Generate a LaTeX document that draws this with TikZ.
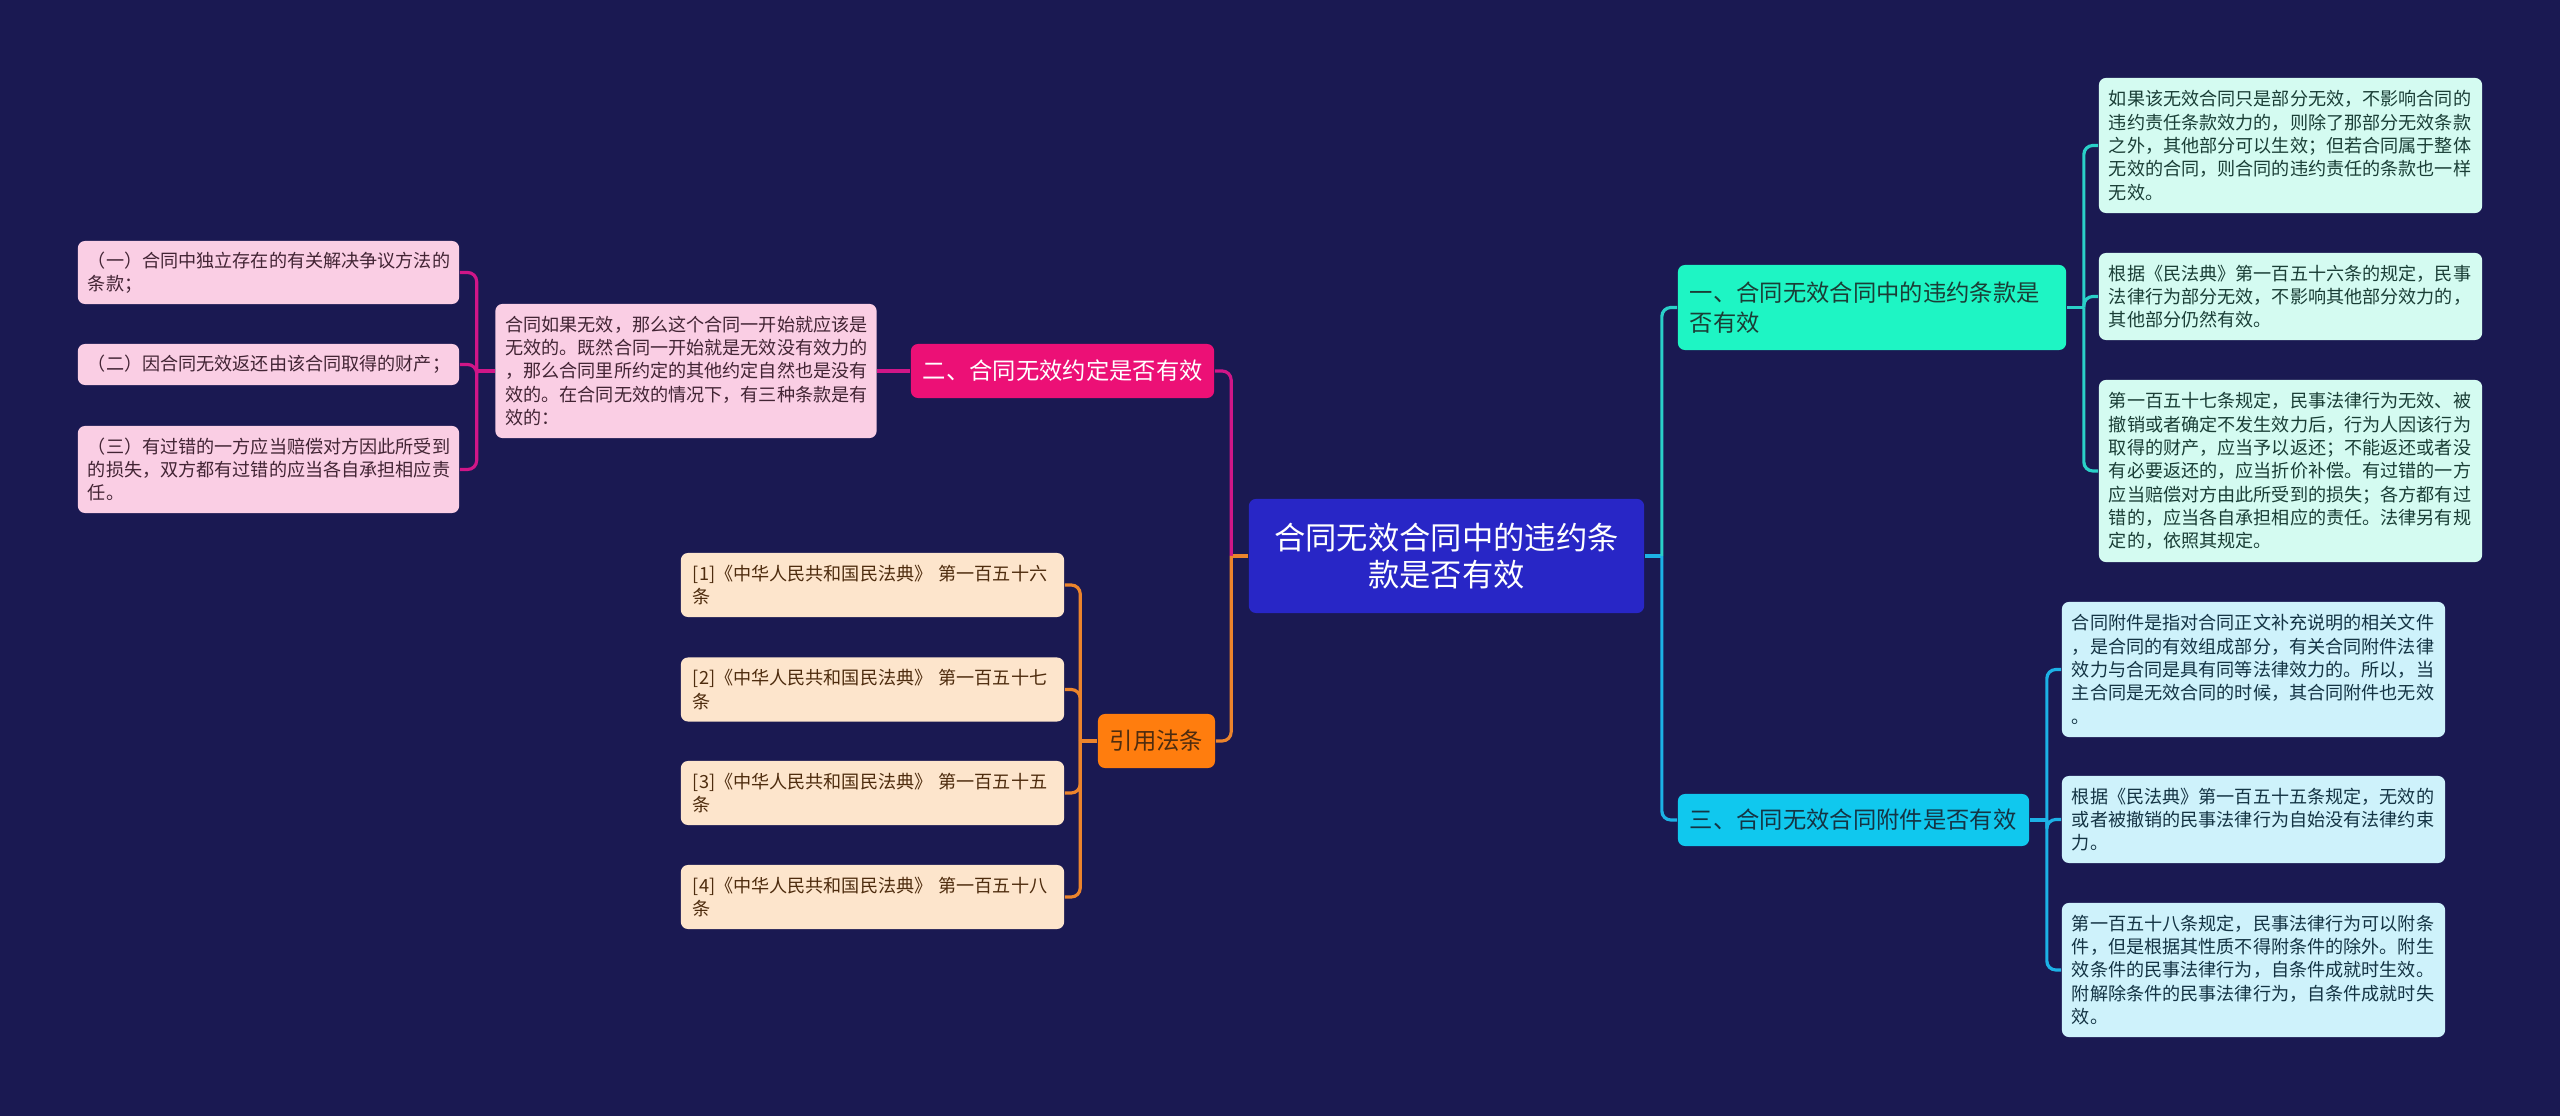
\documentclass[tikz,border=0pt]{standalone}
\usepackage{fontspec}
\setmainfont{Noto Sans CJK SC}
\definecolor{bgnavy}{RGB}{26,25,82}
\definecolor{rootblue}{RGB}{40,38,198}
\definecolor{mint}{RGB}{30,245,196}
\definecolor{mintleaf}{RGB}{212,251,241}
\definecolor{mintline}{RGB}{42,208,200}
\definecolor{mintink}{RGB}{26,62,54}
\definecolor{sky}{RGB}{16,200,238}
\definecolor{skyleaf}{RGB}{206,242,251}
\definecolor{skyline}{RGB}{28,178,230}
\definecolor{skyink}{RGB}{20,52,68}
\definecolor{rose}{RGB}{236,16,118}
\definecolor{roseleaf}{RGB}{250,206,228}
\definecolor{roseline}{RGB}{208,22,136}
\definecolor{roseink}{RGB}{66,36,52}
\definecolor{amber}{RGB}{255,125,14}
\definecolor{amberleaf}{RGB}{253,229,204}
\definecolor{amberline}{RGB}{236,132,44}
\definecolor{amberink}{RGB}{78,44,14}
\begin{document}
\begin{tikzpicture}[x=0.01cm,y=-0.01cm,
  box/.style={rounded corners=0.07cm,inner ysep=0pt},
  rootstyle/.style={box,fill=rootblue,text=white,align=center,minimum width=3.95cm,minimum height=1.14cm,font=\fontsize{8.9}{10.6}\selectfont},
  mainstyle/.style={box,inner xsep=0.12cm,align=left,font=\fontsize{6.63}{8.5}\selectfont},
  smallstyle/.style={box,inner xsep=0.1cm,align=left,text width=3.63cm,font=\fontsize{5.15}{6.63}\selectfont},
  refstyle/.style={smallstyle,inner xsep=0.12cm,text width=3.59cm,fill=amberleaf,text=amberink,minimum height=0.64cm},
  wire/.style={line width=0.9pt,rounded corners=0.09cm}]
	\path[use as bounding box,fill=bgnavy] (0,0) rectangle (2560,1116);

	% centre
	\node [rootstyle] (root) at (1446.5,556) {合同无效合同中的违约条\\款是否有效};

	% right side
	\node [mainstyle,fill=mint,text=mintink,text width=3.64cm,minimum height=0.85cm] (b1) at (1872,307.5) {一、合同无效合同中的违约条款是\\否有效};
	\node [mainstyle,fill=sky,text=skyink,text width=3.27cm,minimum height=0.52cm] (b3) at (1853.5,820) {三、合同无效合同附件是否有效};

	\node [smallstyle,fill=mintleaf,text=mintink,minimum height=1.35cm] (l1a) at (2290.5,145.5) {如果该无效合同只是部分无效，不影响合同的\\违约责任条款效力的，则除了那部分无效条款\\之外，其他部分可以生效；但若合同属于整体\\无效的合同，则合同的违约责任的条款也一样\\无效。};
	\node [smallstyle,fill=mintleaf,text=mintink,minimum height=0.87cm] (l1b) at (2290.5,296.5) {根据《民法典》第一百五十六条的规定，民事\\法律行为部分无效，不影响其他部分效力的，\\其他部分仍然有效。};
	\node [smallstyle,fill=mintleaf,text=mintink,minimum height=1.82cm] (l1c) at (2290.5,471) {第一百五十七条规定，民事法律行为无效、被\\撤销或者确定不发生效力后，行为人因该行为\\取得的财产，应当予以返还；不能返还或者没\\有必要返还的，应当折价补偿。有过错的一方\\应当赔偿对方由此所受到的损失；各方都有过\\错的，应当各自承担相应的责任。法律另有规\\定的，依照其规定。};

	\node [smallstyle,fill=skyleaf,text=skyink,minimum height=1.35cm] (l3a) at (2253.5,669.5) {合同附件是指对合同正文补充说明的相关文件\\，是合同的有效组成部分，有关合同附件法律\\效力与合同是具有同等法律效力的。所以，当\\主合同是无效合同的时候，其合同附件也无效\\。};
	\node [smallstyle,fill=skyleaf,text=skyink,minimum height=0.87cm] (l3b) at (2253.5,819.5) {根据《民法典》第一百五十五条规定，无效的\\或者被撤销的民事法律行为自始没有法律约束\\力。};
	\node [smallstyle,fill=skyleaf,text=skyink,minimum height=1.34cm] (l3c) at (2253.5,970) {第一百五十八条规定，民事法律行为可以附条\\件，但是根据其性质不得附条件的除外。附生\\效条件的民事法律行为，自条件成就时生效。\\附解除条件的民事法律行为，自条件成就时失\\效。};

	% left side
	\node [mainstyle,fill=rose,text=white,text width=2.79cm,minimum height=0.54cm] (b2) at (1062.5,371) {二、合同无效约定是否有效};
	\node [smallstyle,fill=roseleaf,text=roseink,text width=3.61cm,minimum height=1.34cm] (p) at (686,371) {合同如果无效，那么这个合同一开始就应该是\\无效的。既然合同一开始就是无效没有效力的\\，那么合同里所约定的其他约定自然也是没有\\效的。在合同无效的情况下，有三种条款是有\\效的：};
	\node [smallstyle,fill=roseleaf,text=roseink,text width=3.61cm,minimum height=0.63cm] (g1) at (268.5,272.5) {（一）合同中独立存在的有关解决争议方法的\\条款；};
	\node [smallstyle,fill=roseleaf,text=roseink,text width=3.61cm,minimum height=0.41cm] (g2) at (268.5,364.5) {（二）因合同无效返还由该合同取得的财产；};
	\node [smallstyle,fill=roseleaf,text=roseink,text width=3.61cm,minimum height=0.87cm] (g3) at (268.5,469.5) {（三）有过错的一方应当赔偿对方因此所受到\\的损失，双方都有过错的应当各自承担相应责\\任。};

	\node [mainstyle,fill=amber,text=amberink,text width=0.93cm,minimum height=0.54cm] (cite) at (1156.5,741) {引用法条};
	\foreach \i/\y/\n in {1/585/六,2/689.5/七,3/793/五,4/897/八}
		\node [refstyle] (r\i) at (872.5,\y) {[\i]《中华人民共和国民法典》~第一百五十\n\\条};

	% connectors
	\coordinate (rj) at ([xshift=0.17cm]root.east);
	\coordinate (lj) at ([xshift=-0.17cm]root.west);
	\coordinate (b1j) at ([xshift=0.17cm]b1.east);
	\coordinate (b3j) at ([xshift=0.17cm]b3.east);
	\coordinate (pj) at ([xshift=-0.18cm]p.west);
	\coordinate (citej) at ([xshift=-0.17cm]cite.west);

	\draw[wire,skyline] (root.east) -- (rj);
	\draw[wire,mintline] (rj) |- (b1.west);
	\draw[wire,skyline] (rj) |- (b3.west);
	\draw[wire,mintline] (b1.east) -- (b1j);
	\foreach \n in {l1a,l1b,l1c}
		\draw[wire,mintline] (b1j) |- (\n.west);
	\draw[wire,skyline] (b3.east) -- (b3j);
	\foreach \n in {l3a,l3b,l3c}
		\draw[wire,skyline] (b3j) |- (\n.west);

	\draw[wire,amberline] (root.west) -- (lj);
	\draw[wire,roseline] (lj) |- (b2.east);
	\draw[wire,amberline] (lj) |- (cite.east);
	\draw[wire,roseline] (b2.west) -- (p.east);
	\draw[wire,roseline] (p.west) -- (pj);
	\foreach \n in {g1,g2,g3}
		\draw[wire,roseline] (pj) |- (\n.east);
	\draw[wire,amberline] (cite.west) -- (citej);
	\foreach \i in {1,...,4}
		\draw[wire,amberline] (citej) |- (r\i.east);
\end{tikzpicture}
\end{document}
